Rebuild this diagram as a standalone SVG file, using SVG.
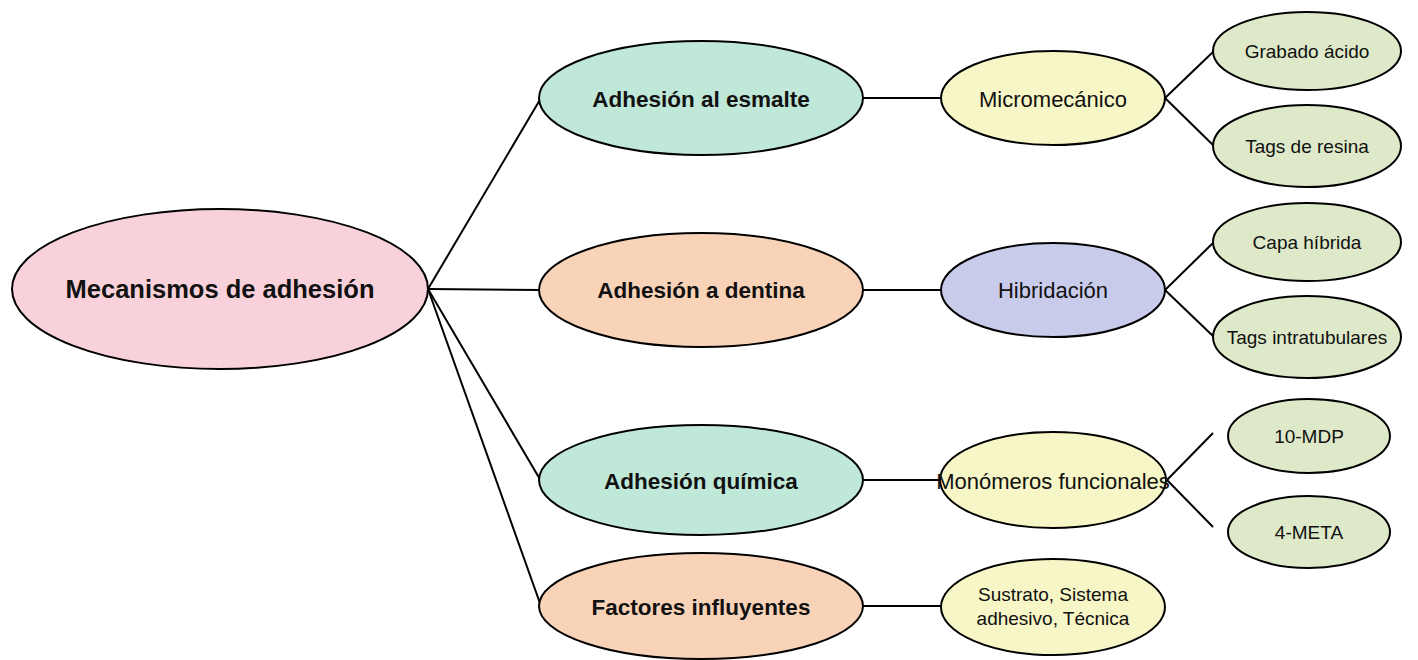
<svg xmlns="http://www.w3.org/2000/svg" width="1418" height="660" viewBox="0 0 1418 660">
<style>
.n{stroke:#000;stroke-width:2}
.t{font-family:"Liberation Sans",Arial,sans-serif;fill:#111;text-anchor:middle;dominant-baseline:central}
.b{font-weight:bold;font-size:22.5px}
.r{font-size:22px}
.s{font-size:19px}
.root{fill:#f8d1da}
.teal{fill:#c0e8d8}
.peach{fill:#f9d3b8}
.yel{fill:#f7f6c6}
.lav{fill:#c9cbeb}
.grn{fill:#dee9c9}
.c line{stroke:#000;stroke-width:2}
</style>
<rect width="1418" height="660" fill="#fff"/>
<g class="c" id="connectors">
<line x1="428" y1="289" x2="541" y2="98"/>
<line x1="428" y1="289" x2="541" y2="290"/>
<line x1="428" y1="289" x2="541" y2="481"/>
<line x1="428" y1="289" x2="541" y2="606"/>
<line x1="863" y1="98" x2="942" y2="98"/>
<line x1="863" y1="290" x2="942" y2="290"/>
<line x1="863" y1="480" x2="945" y2="480"/>
<line x1="863" y1="606" x2="942" y2="606"/>
<line x1="1165" y1="98" x2="1214" y2="51"/>
<line x1="1165" y1="98" x2="1214" y2="146"/>
<line x1="1165" y1="290" x2="1214" y2="242"/>
<line x1="1165" y1="290" x2="1214" y2="337"/>
<line x1="1167" y1="480" x2="1213" y2="433"/>
<line x1="1167" y1="480" x2="1213" y2="527"/>
</g>
<g id="root"><ellipse class="n root" cx="220" cy="289" rx="208" ry="80"/><text class="t b" x="220" y="289" style="font-size:25.5px">Mecanismos de adhesión</text></g>
<g id="esmalte"><ellipse class="n teal" cx="701" cy="98" rx="162" ry="57"/><text class="t b" x="701" y="99">Adhesión al esmalte</text></g>
<g id="dentina"><ellipse class="n peach" cx="701" cy="290" rx="162" ry="57"/><text class="t b" x="701" y="290">Adhesión a dentina</text></g>
<g id="quimica"><ellipse class="n teal" cx="701" cy="480" rx="162" ry="55"/><text class="t b" x="701" y="481">Adhesión química</text></g>
<g id="factores"><ellipse class="n peach" cx="701" cy="606" rx="162" ry="53"/><text class="t b" x="701" y="607">Factores influyentes</text></g>
<g id="micromecanico"><ellipse class="n yel" cx="1053" cy="98" rx="112" ry="47"/><text class="t r" x="1053" y="99">Micromecánico</text></g>
<g id="hibridacion"><ellipse class="n lav" cx="1053" cy="290" rx="112" ry="47"/><text class="t r" x="1053" y="290">Hibridación</text></g>
<g id="monomeros"><ellipse class="n yel" cx="1053" cy="480" rx="113" ry="48"/><text class="t r" x="1053" y="481">Monómeros funcionales</text></g>
<g id="sustrato"><ellipse class="n yel" cx="1053" cy="607" rx="112" ry="48"/><text class="t s" x="1053" y="594">Sustrato, Sistema</text><text class="t s" x="1053" y="618">adhesivo, Técnica</text></g>
<g id="grabado"><ellipse class="n grn" cx="1307" cy="51" rx="94" ry="39"/><text class="t s" x="1307" y="51">Grabado ácido</text></g>
<g id="tagsresina"><ellipse class="n grn" cx="1307" cy="146" rx="94" ry="41"/><text class="t s" x="1307" y="146">Tags de resina</text></g>
<g id="capa"><ellipse class="n grn" cx="1307" cy="242" rx="94" ry="39"/><text class="t s" x="1307" y="242">Capa híbrida</text></g>
<g id="tagsintra"><ellipse class="n grn" cx="1307" cy="337" rx="94" ry="41"/><text class="t s" x="1307" y="337">Tags intratubulares</text></g>
<g id="mdp"><ellipse class="n grn" cx="1309" cy="436" rx="81" ry="37"/><text class="t s" x="1309" y="436">10-MDP</text></g>
<g id="meta"><ellipse class="n grn" cx="1309" cy="532" rx="81" ry="36"/><text class="t s" x="1309" y="532">4-META</text></g>
</svg>
